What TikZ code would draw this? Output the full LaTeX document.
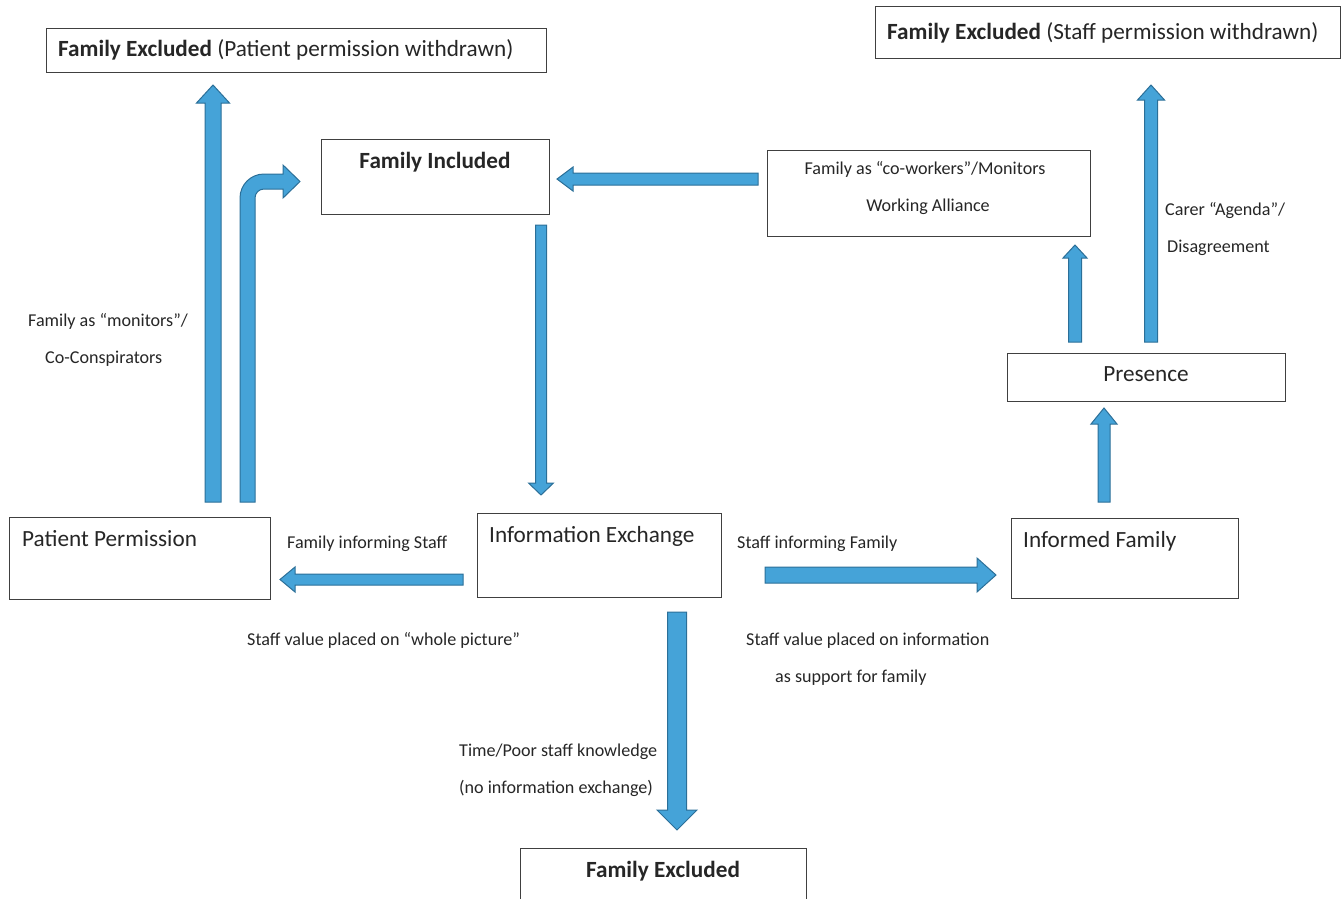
\documentclass[tikz,border=0pt]{standalone}
\usepackage{fontspec}
\setmainfont{Carlito}
\usetikzlibrary{calc}
\definecolor{arrfill}{HTML}{45A3D8}
\definecolor{arrline}{HTML}{2B6F98}
\definecolor{boxline}{HTML}{404040}
\definecolor{txt}{HTML}{262626}
\tikzset{
  box/.style={draw=boxline, line width=1.1pt, fill=white, inner sep=0pt, anchor=north west},
  bigtxt/.style={font=\fontsize{23.2pt}{27pt}\selectfont, text=txt, inner sep=0pt},
  smalltxt/.style={font=\fontsize{18.1pt}{21pt}\selectfont, text=txt, inner sep=0pt},
  barrow/.style={fill=arrfill, draw=arrline, line width=1pt, line join=miter}
}
% #1 start, #2 tip, #3 half shaft width, #4 half head width, #5 head length
\newcommand\blockarrow[5]{%
  \coordinate (hb) at ($(#2)!#5!(#1)$);
  \filldraw[barrow] ($(#1)!#3!90:(#2)$) -- ($(hb)!#3!90:(#2)$) -- ($(hb)!#4!90:(#2)$) -- (#2)
    -- ($(hb)!#4!-90:(#2)$) -- ($(hb)!#3!-90:(#2)$) -- ($(#1)!#3!-90:(#2)$) -- cycle;
}
\begin{document}
\begin{tikzpicture}[x=1pt,y=-1pt]
\useasboundingbox (0,0) rectangle (1342,898);
% boxes
\node[box, minimum width=500pt, minimum height=44pt] (fel) at (46,28) {};
\node[box, minimum width=465pt, minimum height=52pt] (fer) at (875,6) {};
\node[box, minimum width=228pt, minimum height=75pt] (fi) at (321,139) {};
\node[box, minimum width=323pt, minimum height=86pt] (cw) at (767,150) {};
\node[box, minimum width=278pt, minimum height=48pt] (pr) at (1007,353) {};
\node[box, minimum width=261pt, minimum height=82pt] (pp) at (9,517) {};
\node[box, minimum width=244pt, minimum height=84pt] (ie) at (477,513) {};
\node[box, minimum width=227pt, minimum height=80pt] (inf) at (1011,518) {};
\node[box, minimum width=286pt, minimum height=70pt] (feb) at (520,848) {};
% box texts
\node[bigtxt, anchor=base west] (felt) at (58,56.5) {\textbf{Family Excluded} (Patient permission withdrawn)};
\node[bigtxt, anchor=base west] (fert) at (887,39.5) {\textbf{Family Excluded} (Staff permission withdrawn)};
\node[bigtxt, anchor=base] (fit) at (435,168.5) {\textbf{Family Included}};
\node[smalltxt, anchor=base] (cwt1) at (925,174) {Family as “co-workers”/Monitors};
\node[smalltxt, anchor=base] (cwt2) at (928,211) {Working Alliance};
\node[bigtxt, anchor=base] (prt) at (1146,381.5) {Presence};
\node[bigtxt, anchor=base west] (ppt) at (22,546.5) {Patient Permission};
\node[bigtxt, anchor=base west] (iet) at (489,542.5) {Information Exchange};
\node[bigtxt, anchor=base west] (inft) at (1023,547.5) {Informed Family};
\node[bigtxt, anchor=base] (febt) at (663,877.5) {\textbf{Family Excluded}};
% labels
\node[smalltxt, anchor=base west] (l1) at (28,326) {Family as “monitors”/};
\node[smalltxt, anchor=base west] (l2) at (45,363) {Co-Conspirators};
\node[smalltxt, anchor=base west] (l3) at (287,548) {Family informing Staff};
\node[smalltxt, anchor=base west] (l4) at (737,548) {Staff informing Family};
\node[smalltxt, anchor=base west] (l5) at (247,645) {Staff value placed on “whole picture”};
\node[smalltxt, anchor=base west] (l6) at (746,645) {Staff value placed on information};
\node[smalltxt, anchor=base west] (l7) at (775,682) {as support for family};
\node[smalltxt, anchor=base west] (l8) at (459,756) {Time/Poor staff knowledge};
\node[smalltxt, anchor=base west] (l9) at (459,793) {(no information exchange)};
\node[smalltxt, anchor=base west] (l10) at (1165,215) {Carer “Agenda”/};
\node[smalltxt, anchor=base west] (l11) at (1167,252) {Disagreement};
% arrow end points
\coordinate (a1s) at (213,502);  \coordinate (a1t) at (213,85);
\coordinate (a3s) at (541,225);  \coordinate (a3t) at (541,495);
\coordinate (a4s) at (758,179);  \coordinate (a4t) at (557,179);
\coordinate (a5s) at (1075,342); \coordinate (a5t) at (1075,245);
\coordinate (a6s) at (1151,342); \coordinate (a6t) at (1151,85);
\coordinate (a7s) at (1104,502); \coordinate (a7t) at (1104,408);
\coordinate (a8s) at (463,579.5);  \coordinate (a8t) at (280,579.5);
\coordinate (a9s) at (765,575);  \coordinate (a9t) at (996,575);
\coordinate (a10s) at (677,612); \coordinate (a10t) at (677,830);
% block arrows
\blockarrow{a1s}{a1t}{8pt}{16.5pt}{18pt}
\blockarrow{a3s}{a3t}{5.5pt}{12.5pt}{12pt}
\blockarrow{a4s}{a4t}{6pt}{12pt}{16pt}
\blockarrow{a5s}{a5t}{6.5pt}{12pt}{13pt}
\blockarrow{a6s}{a6t}{6.5pt}{13.5pt}{15pt}
\blockarrow{a7s}{a7t}{6pt}{13pt}{16pt}
\blockarrow{a8s}{a8t}{5.5pt}{12.5pt}{15pt}
\blockarrow{a9s}{a9t}{8pt}{17pt}{19pt}
\blockarrow{a10s}{a10t}{9.5pt}{20pt}{20pt}
% bent arrow
\coordinate (b0) at (240,502);
\filldraw[barrow] (b0) -- (240,198) .. controls (240,184.7) and (250.7,174) .. (264,174)
  -- (283,174) -- (283,165) -- (300,181.5) -- (283,198) -- (283,189) -- (264,189)
  .. controls (259,189) and (255,193) .. (255,198) -- (255,502) -- cycle;
\end{tikzpicture}
\end{document}
